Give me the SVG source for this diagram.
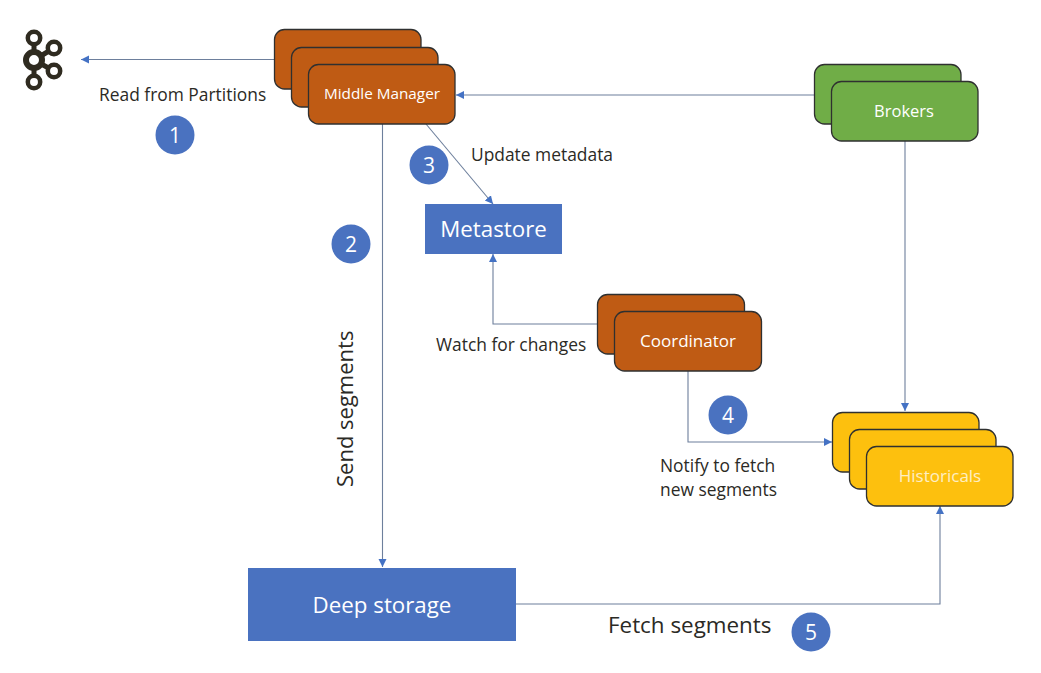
<svg xmlns="http://www.w3.org/2000/svg" width="1041" height="673" viewBox="0 0 1041 673">
<style>
text{font-family:"Open Sans","Noto Sans","Liberation Sans",sans-serif}
.lb{font-size:17.400px;fill:#2b2a25}
.nm{font-size:17px;fill:#fff;text-anchor:middle}
.num{font-size:21px;fill:#fff;text-anchor:middle}
.big{font-size:22.300px;fill:#fff;text-anchor:middle}
.o{fill:#bf5b14;stroke:#2f3030;stroke-width:1.3}
.g{fill:#70ad47;stroke:#2f3030;stroke-width:1.3}
.y{fill:#fdc00e;stroke:#2f3030;stroke-width:1.3}
.b{fill:#4a72c0}
.c{fill:none;stroke:#6d7f9c;stroke-width:1.100;marker-end:url(#a)}
</style>
<defs><marker id="a" markerUnits="userSpaceOnUse" markerWidth="10" markerHeight="10" refX="8" refY="4" orient="auto"><path d="M0 0L8 4L0 8Z" fill="#4472c4"/></marker></defs>
<rect width="1041" height="673" fill="#fff"/>
<g id="connectors">
<path class="c" d="M274 59.500H81"/>
<path class="c" d="M382.500 124V567"/>
<path class="c" d="M426 124L493 204"/>
<path class="c" d="M814 95H456"/>
<path class="c" d="M905 141V411"/>
<path class="c" d="M597 324H493V254"/>
<path class="c" d="M688 371V442H832"/>
<path class="c" d="M516 604H940V506"/>
</g>
<g id="kafka">
<path d="M34 38V82M34 60L54 48M34 60L54 71" fill="none" stroke="#2f2b20" stroke-width="5"/>
<g fill="#fff" stroke="#2f2b20"><circle cx="34" cy="38" r="6.200" stroke-width="4.500"/><circle cx="54" cy="48" r="6.200" stroke-width="4.500"/><circle cx="34" cy="60" r="8" stroke-width="6"/><circle cx="54" cy="71" r="6.200" stroke-width="4.500"/><circle cx="34" cy="82" r="6.200" stroke-width="4.500"/></g>
</g>
<g id="middle-manager">
<rect class="o" x="274.500" y="29.500" width="146.500" height="59.500" rx="10"/>
<rect class="o" x="291.500" y="47.500" width="146.500" height="59.500" rx="10"/>
<rect class="o" x="308.500" y="64.500" width="146.500" height="59.500" rx="10"/>
<text class="nm" x="382" y="98.500" style="font-size:15.300px">Middle Manager</text>
</g>
<g id="brokers">
<rect class="g" x="814.500" y="64.500" width="146.500" height="59.500" rx="10"/>
<rect class="g" x="831.500" y="81.500" width="146.500" height="59.500" rx="10"/>
<text class="nm" x="904" y="117" style="font-size:16.500px">Brokers</text>
</g>
<g id="metastore"><rect class="b" x="425" y="204" width="137" height="50"/><text class="big" x="493.500" y="236.500">Metastore</text></g>
<g id="coordinator">
<rect class="o" x="597.500" y="294.500" width="147" height="59.500" rx="10"/>
<rect class="o" x="614.500" y="311.500" width="147" height="59.500" rx="10"/>
<text class="nm" x="688" y="347">Coordinator</text>
</g>
<g id="historicals">
<rect class="y" x="832.500" y="412.500" width="146.500" height="59.500" rx="10"/>
<rect class="y" x="849.500" y="429.500" width="146.500" height="59.500" rx="10"/>
<rect class="y" x="866.500" y="446.500" width="146.500" height="59.500" rx="10"/>
<text class="nm" x="940" y="482" style="opacity:.75">Historicals</text>
</g>
<g id="deep-storage"><rect class="b" x="248" y="568" width="268" height="73"/><text class="big" x="382" y="613">Deep storage</text></g>
<g id="labels">
<text class="lb" x="99" y="101">Read from Partitions</text>
<text class="lb" x="471" y="161">Update metadata</text>
<text class="lb" x="436" y="351">Watch for changes</text>
<text class="lb" x="660" y="472">Notify to fetch</text>
<text class="lb" x="660" y="496">new segments</text>
<text class="lb" x="608" y="633" style="font-size:22.400px">Fetch segments</text>
<text class="lb" transform="translate(353 487) rotate(-90)" style="font-size:22px">Send segments</text>
</g>
<g id="step-1"><circle class="b" cx="175" cy="135" r="19.500"/><text class="num" x="175" y="143">1</text></g>
<g id="step-2"><circle class="b" cx="351" cy="244" r="19.500"/><text class="num" x="351" y="252">2</text></g>
<g id="step-3"><circle class="b" cx="429" cy="165" r="19.500"/><text class="num" x="429" y="173">3</text></g>
<g id="step-4"><circle class="b" cx="728" cy="415" r="19.500"/><text class="num" x="728" y="423">4</text></g>
<g id="step-5"><circle class="b" cx="811" cy="632" r="19.500"/><text class="num" x="811" y="640">5</text></g>
</svg>
